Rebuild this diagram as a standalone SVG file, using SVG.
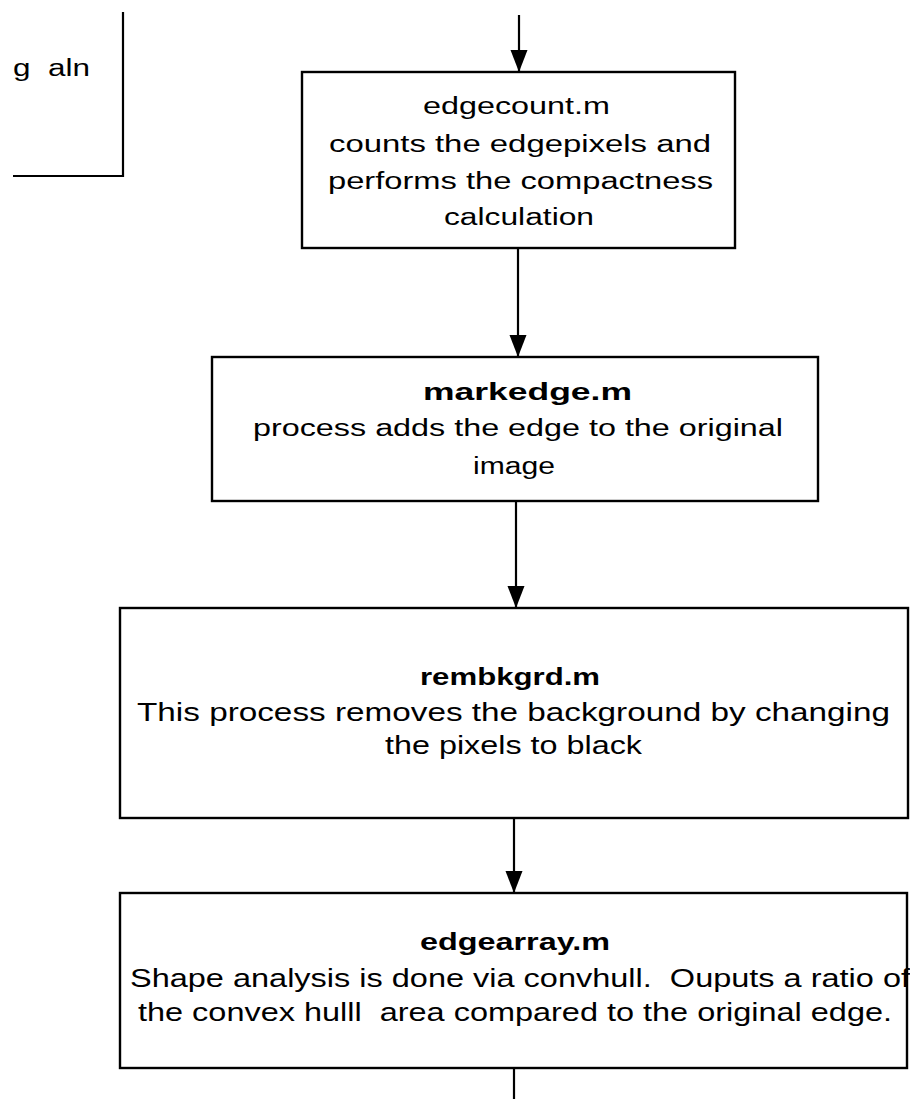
<svg xmlns="http://www.w3.org/2000/svg" width="910" height="1099" viewBox="0 0 910 1099">
  <style>
    .box { fill: #ffffff; stroke: #000000; stroke-width: 2.4; }
    .wire { fill: none; stroke: #000000; stroke-width: 2.2; }
    .t { font-family: "Liberation Sans", Arial, sans-serif; font-size: 23px; fill: #000000; white-space: pre; }
    .tl { font-family: "Liberation Sans", Arial, sans-serif; font-size: 25px; fill: #000000; white-space: pre; }
    .b { font-family: "Liberation Sans", Arial, sans-serif; font-size: 24px; font-weight: bold; fill: #000000; }
  </style>
  <defs>
    <!-- filled arrowhead, tip at the end of the line -->
    <marker id="head" markerUnits="userSpaceOnUse" markerWidth="24" markerHeight="18" refX="23" refY="9" orient="auto" viewBox="0 0 24 18">
      <path d="M1,0.5 L23,9 L1,17.5 Z" fill="#000000"/>
    </marker>
  </defs>
  <rect width="910" height="1099" fill="#ffffff"/>

  <!-- partial block at top left -->
  <g id="upstream">
    <path class="wire" d="M123,12 L123,176 L13,176"/>
    <text class="t" x="13" y="76" xml:space="preserve" textLength="77" lengthAdjust="spacingAndGlyphs">g  aln</text>
  </g>

  <!-- connectors -->
  <g id="connectors">
    <line class="wire" x1="519" y1="15" x2="519" y2="72" marker-end="url(#head)"/>
    <line class="wire" x1="518" y1="248" x2="518" y2="357" marker-end="url(#head)"/>
    <line class="wire" x1="516" y1="501" x2="516" y2="608" marker-end="url(#head)"/>
    <line class="wire" x1="514" y1="818" x2="514" y2="893" marker-end="url(#head)"/>
    <line class="wire" x1="514" y1="1068" x2="514" y2="1099"/>
  </g>

  <g id="edgecount">
    <rect class="box" x="302" y="72" width="433" height="176"/>
    <text class="t" x="423" y="114" textLength="187" lengthAdjust="spacingAndGlyphs">edgecount.m</text>
    <text class="t" x="329" y="152" textLength="382" lengthAdjust="spacingAndGlyphs">counts the edgepixels and</text>
    <text class="t" x="328" y="189" textLength="385" lengthAdjust="spacingAndGlyphs">performs the compactness</text>
    <text class="t" x="444" y="225" textLength="150" lengthAdjust="spacingAndGlyphs">calculation</text>
  </g>

  <g id="markedge">
    <rect class="box" x="212" y="357" width="606" height="144"/>
    <text class="b" x="423" y="400" textLength="209" lengthAdjust="spacingAndGlyphs">markedge.m</text>
    <text class="t" x="253" y="436" textLength="530" lengthAdjust="spacingAndGlyphs">process adds the edge to the original</text>
    <text class="t" x="473" y="474" textLength="82" lengthAdjust="spacingAndGlyphs">image</text>
  </g>

  <g id="rembkgrd">
    <rect class="box" x="120" y="608" width="788" height="210"/>
    <text class="b" x="420" y="685" textLength="180" lengthAdjust="spacingAndGlyphs">rembkgrd.m</text>
    <text class="tl" x="137" y="721" textLength="753" lengthAdjust="spacingAndGlyphs">This process removes the background by changing</text>
    <text class="tl" x="385" y="754" textLength="257" lengthAdjust="spacingAndGlyphs">the pixels to black</text>
  </g>

  <g id="edgearray">
    <rect class="box" x="120" y="893" width="787" height="175"/>
    <text class="b" x="420" y="950" textLength="190" lengthAdjust="spacingAndGlyphs">edgearray.m</text>
    <text class="tl" x="130" y="987" xml:space="preserve" textLength="780" lengthAdjust="spacingAndGlyphs">Shape analysis is done via convhull.  Ouputs a ratio of</text>
    <text class="tl" x="138" y="1021" xml:space="preserve" textLength="754" lengthAdjust="spacingAndGlyphs">the convex hulll  area compared to the original edge.</text>
  </g>
</svg>
